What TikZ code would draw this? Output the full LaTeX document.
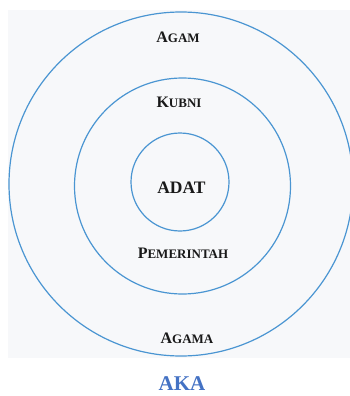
\documentclass[tikz,border=0pt]{standalone}
\usepackage{fontspec}
\setmainfont{Liberation Serif}
\definecolor{ringblue}{HTML}{4A95D2}
\definecolor{akablue}{HTML}{4472C4}
\definecolor{paper}{HTML}{F7F8FA}
\newcommand{\fakesc}[2]{{\fontsize{16}{16}\selectfont #1}{\fontsize{13}{13}\selectfont #2}}
\begin{document}
\begin{tikzpicture}[x=1pt,y=-1pt,
  ring/.style={draw=ringblue,line width=1.2pt},
  lbl/.style={anchor=base,inner sep=0pt,font=\bfseries,text=black!90}]
\useasboundingbox (0,0) rectangle (350,396);
\fill[white] (0,0) rectangle (350,396);
\fill[paper] (8,10) rectangle (350,358);
\begin{scope}
\clip (0,0) rectangle (350,396);
\draw[ring] (181,184) circle (172);
\end{scope}
\draw[ring] (182.5,186) circle (108);
\draw[ring] (180,182) circle (49);
\node[lbl] (agam) at (178,43) {\fakesc{A}{GAM}};
\node[lbl] (kubni) at (179,107) {\fakesc{K}{UBNI}};
\node[lbl,font=\bfseries\fontsize{17.5}{17.5}\selectfont] (adat) at (181.5,193) {ADAT};
\node[lbl] (pem) at (183,258) {\fakesc{P}{EMERINTAH}};
\node[lbl] (agama) at (187,343) {\fakesc{A}{GAMA}};
\node[lbl,text=akablue,font=\bfseries\fontsize{21}{21}\selectfont] (aka) at (182,390) {AKA};
\end{tikzpicture}
\end{document}
